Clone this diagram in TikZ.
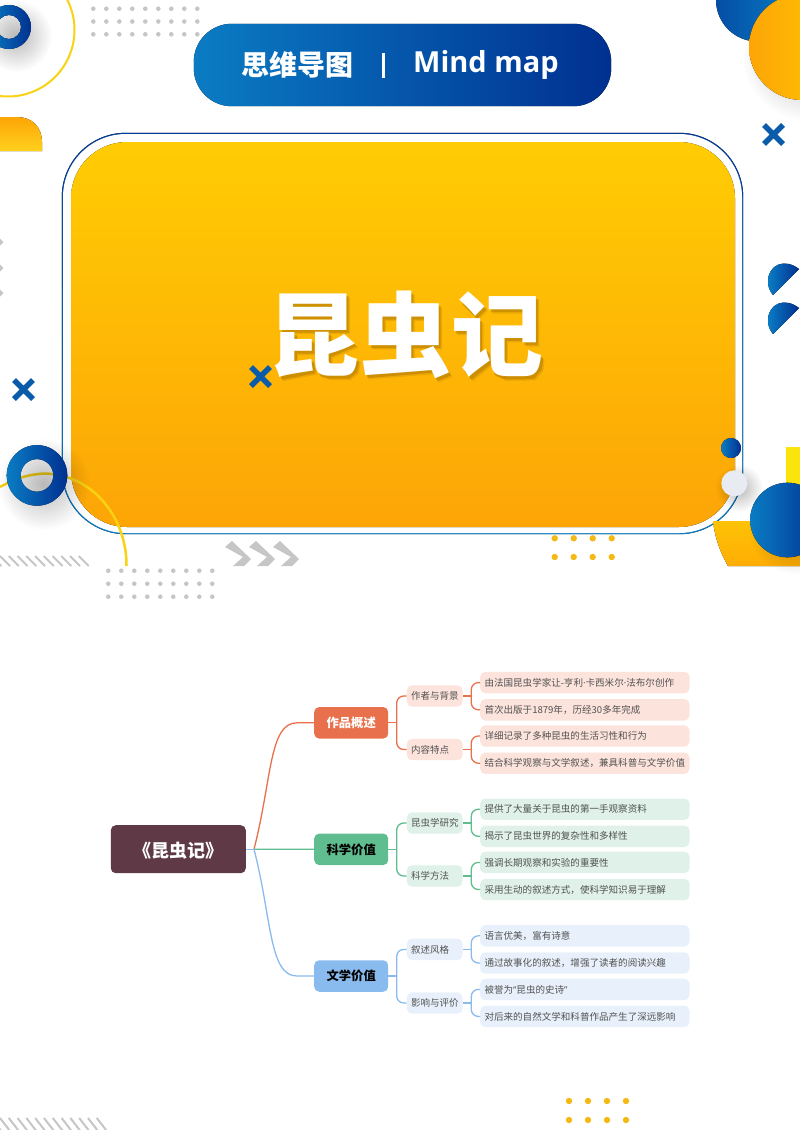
\documentclass[tikz,border=0pt]{standalone}
\usepackage{fontspec}
\setmainfont{Noto Sans CJK SC}
\newfontfamily\latinfont{Open Sans}
\usetikzlibrary{fadings}
\definecolor{pillL}{HTML}{0A7CC4}
\definecolor{pillR}{HTML}{003090}
\definecolor{sunT}{HTML}{FFCC04}
\definecolor{sunB}{HTML}{FDA506}
\definecolor{lineY}{HTML}{F8D213}
\definecolor{dotG}{HTML}{C6C6C6}
\definecolor{dotY}{HTML}{F5B915}
\definecolor{crossB}{HTML}{0A5CAA}
\definecolor{coral}{HTML}{E8704C}
\definecolor{coralL}{HTML}{FCE3DC}
\definecolor{jade}{HTML}{5FBD90}
\definecolor{jadeL}{HTML}{DFF1E8}
\definecolor{sky}{HTML}{8ABBEE}
\definecolor{skyL}{HTML}{E8F1FB}
\definecolor{plum}{HTML}{5F3A46}
\definecolor{mist}{HTML}{E8EBF1}
\definecolor{umber}{HTML}{8A5A00}
\tikzfading[name=softglow, inner color=transparent!72, outer color=transparent!100]
\tikzset{
  root node/.style={
    rounded corners=5,
    fill=plum,
    text=white,
    font=\fontsize{18}{20}\selectfont\bfseries,
    text height=17, text depth=.8,
    minimum width=135, minimum height=48,
    inner sep=0,
  },
  branch node/.style={
    rounded corners=5,
    fill=#1,
    font=\fontsize{12.3}{14}\selectfont\bfseries,
    text height=10.5, text depth=1.1,
    minimum width=74, minimum height=31.5,
    inner sep=0,
  },
  topic node/.style={
    rounded corners=5,
    fill=#1,
    anchor=west,
    text=black!68,
    font=\fontsize{9.5}{11}\selectfont,
    text height=8, text depth=.8,
    text width=47, align=left,
    minimum height=21.4,
    inner xsep=4.3, inner ysep=0,
  },
  leaf node/.style={
    rounded corners=5,
    fill=#1,
    anchor=west,
    text=black!68,
    font=\fontsize{9.55}{11}\selectfont,
    text height=8, text depth=.8,
    text width=200.7, align=left,
    minimum height=21.4,
    inner xsep=4.3, inner ysep=0,
  },
  link/.style={line width=1.3, draw=#1},
  soft link/.style={line width=1.3, draw=#1, rounded corners=7},
  glow/.style={fill=black, path fading=softglow},
  blue grad/.style={left color=pillL, right color=pillR},
  cross mark/.style={draw=crossB, line width=5.4},
}
\begin{document}
\begin{tikzpicture}[x=1pt, y=-1pt]
  \useasboundingbox (0,0) rectangle (800,1130);
  \clip (0,0) rectangle (800,1130);

  % top left corner
  \draw[lineY, line width=2] (8,30) circle (66.5);
  \fill[glow] (16,36) circle (36);
  \fill[even odd rule, blue grad] (9,27) circle (22) (9,27) circle (12);
  \foreach \x in {0,...,8}
    \foreach \y in {0,1,2}
      \fill[dotG] (93.3+13*\x, 8.7+12.8*\y) circle (2.3);
  \fill[top color=sunB, bottom color=sunT!90!white] (0,117) -- (17,117)
    .. controls (32,117) and (42,127) .. (42,142) -- (42,151) -- (0,151) -- cycle;
  \foreach \y in {242,268,293}
    \fill[dotG] (-2,\y-5.5) -- (3.5,\y) -- (-2,\y+5.5) -- (-7,\y) -- cycle;

  % top right corner
  \fill[left color=pillR!60!pillL, right color=pillL] (757.5,0) circle (41.5);
  \fill[glow] (806,56) circle (64);
  \fill[left color=sunB, right color=sunT] (802,47) circle (53);
  \draw[cross mark] (764,125) -- (783,144) (764,144) -- (783,125);
  \foreach \y in {0,39}
    \fill[blue grad] (799,269+\y) .. controls (785,258+\y) and (768,264+\y) .. (768,282+\y)
      .. controls (768,287+\y) and (770,292+\y) .. (773,295+\y) -- cycle;

  % title band
  \node[inner sep=0, minimum width=417, minimum height=82] (pill) at (402.5,65) {};
  \fill[blue grad, rounded corners=38] (pill.south west) rectangle (pill.north east);
  \node[text=white, font=\fontsize{28}{30}\selectfont\bfseries, anchor=west, inner sep=0] (pillzh) at (241,65) {思维导图};
  \node[fill=white, minimum width=3, minimum height=25, inner sep=0] (pillbar) at (383,65) {};
  \node[text=white, font=\fontsize{29}{31}\selectfont\latinfont\bfseries, anchor=west, inner sep=0] (pillen) at (413,65) {Mind map};

  % big panel
  \fill[top color=pillR!85!pillL, bottom color=pillL, rounded corners=64] (61.8,132.8) rectangle (743.2,534.2);
  \fill[white, rounded corners=63] (63,134) rectangle (742,533);
  \fill[top color=sunT, bottom color=sunB, rounded corners=56] (71,142) rectangle (735,527);

  % shadow of the title, stroke by stroke
  \foreach \d/\op in {3.8/.16, 2.4/.3}
    \fill[umber, opacity=\op, even odd rule, shift={(\d,\d)}]
      (279.5,293.8) rectangle (346.2,330.3)
      (292.8,304.4) rectangle (332,307.2)
      (292.8,316.9) rectangle (332,320)
      (280.5,332.6) -- (294.4,332.6) -- (294.4,339.5) -- (311.8,339.5) -- (311.8,351.3) -- (294.4,351.3)
        -- (294.4,361.5) -- (311.3,359) -- (313.1,370.8) -- (279.5,377.4) -- (274.6,365.9) -- (280.5,362) -- cycle
      (314.9,332.3) -- (328.7,332.3) -- (328.7,342.3) -- (343.8,334.6) -- (354.4,343.8) -- (328.7,354.4)
        -- (328.7,362) -- (330.8,363.8) -- (341.5,363.8) -- (344.1,360.8) -- (344.6,354.4) -- (356.9,359)
        -- (354.9,369.7) -- (347.2,376.2) -- (326.7,376.2) -- (317.7,373.6) -- (314.9,364.6) -- cycle
      (396.2,291) -- (411,291) -- (411,303.6) -- (438.2,303.6) -- (438.2,345.6) -- (411,345.6)
        -- (411,358.5) -- (424.1,357.7) -- (420.3,351.8) -- (433.1,346.7) -- (448.5,373.1) -- (434.9,378.7)
        -- (430.5,370.3) -- (365.1,375.6) -- (362.6,361) -- (396.2,359.5) -- (396.2,345.6) -- (368.5,345.6)
        -- (368.5,303.6) -- (396.2,303.6) -- cycle
      (382.1,317.2) rectangle (396.2,332.3)
      (411,317.2) rectangle (423.6,332.3)
      (468,291.8) -- (484.1,306.9) -- (474.6,316.4) -- (459.7,301.5) -- cycle
      (453.8,318.7) -- (479.7,318.7) -- (479.7,351.8) -- (485.6,348.7) -- (489.5,360.8) -- (469,377.4)
        -- (461.8,368.5) -- (466.4,362) -- (466.4,331.3) -- (453.8,331.3) -- cycle
      (488.5,296.4) -- (535.6,296.4) -- (535.6,342.8) -- (522,342.8) -- (522,338.5) -- (504.1,338.5)
        -- (504.1,362) -- (506.2,363.8) -- (524.1,363.8) -- (527.2,359.5) -- (528,350) -- (540.8,355.6)
        -- (539.5,367.2) -- (531.8,376.2) -- (521.5,376.9) -- (502.3,376.9) -- (492,372.3) -- (490.3,362)
        -- (490.3,325.6) -- (522,325.6) -- (522,309.7) -- (488.5,309.7) -- cycle;
  \node[text=white, font=\fontsize{92}{96}\selectfont\bfseries, inner sep=0] (title) at (405,335) {昆虫记};
  \draw[cross mark] (251,367) -- (270,386) (251,386) -- (270,367);

  % lower left
  \draw[cross mark] (14,380) -- (33,399) (14,399) -- (33,380);
  \draw[lineY, line width=2.5] (0,487) .. controls (16,478) and (30,474) .. (45,473.5)
    .. controls (95,475) and (127,520) .. (126.5,566);
  \fill[glow] (44,484) circle (46);
  \fill[even odd rule, blue grad] (37,475.4) circle (30.3) (37,475.4) circle (16.3);
  \foreach \x in {-1,...,9}
    \draw[dotG, line width=2] (\x*8.75,556) -- (\x*8.75+10,566);
  \foreach \x in {0,...,8}
    \foreach \y in {0,1,2}
      \fill[dotG] (108.3+13*\x, 570.7+13*\y) circle (2.3);
  \foreach \x in {0,1,2}
    \fill[dotG, xshift=24*\x] (225,547) -- (232,541) -- (251,559) -- (244,566)
      -- (233,566) -- (243,557) -- cycle;

  % lower right
  \foreach \x in {0,...,3}
    \foreach \y in {0,1}
      \fill[dotY] (554.7+19*\x, 538.3+18.7*\y) circle (3.2);
  \fill[lineY!60!yellow] (786,447) rectangle (800,500);
  \fill[top color=sunT!75!sunB, bottom color=sunB!80!sunT] (713,521) -- (800,521) -- (800,566) -- (728,566)
    .. controls (720,552) and (715,538) .. (713,521) -- cycle;
  \fill[glow] (794,528) circle (46);
  \fill[blue grad] (787.5,520) circle (37.3);
  \fill[glow] (739,488) circle (24);
  \fill[blue grad] (731,448) circle (10);
  \fill[mist] (734.3,483.3) circle (13);

  % bottom edge
  \foreach \x in {-1,...,11}
    \draw[dotG, line width=2] (\x*8.8,1118) -- (\x*8.8+10,1131);
  \foreach \x in {0,...,3}
    \foreach \y in {0,1}
      \fill[dotY] (569+19*\x, 1101+19*\y) circle (3.2);

  % mind map nodes
  \node[root node] (root) at (178.3,849.2) {《昆虫记》};
  \node[branch node=coral, text=white] (work) at (351.2,722.8) {作品概述};
  \node[branch node=jade, text=black] (sci) at (351.2,849.3) {科学价值};
  \node[branch node=sky, text=black] (lit) at (351.2,976) {文学价值};

  \node[topic node=coralL] (author) at (406.7,696) {作者与背景};
  \node[topic node=coralL] (content) at (406.7,749.5) {内容特点};
  \node[topic node=jadeL] (insect) at (406.7,823) {昆虫学研究};
  \node[topic node=jadeL] (method) at (406.7,876) {科学方法};
  \node[topic node=skyL] (style) at (406.7,949.4) {叙述风格};
  \node[topic node=skyL] (impact) at (406.7,1003) {影响与评价};

  \node[leaf node=coralL] (a1) at (480,682.6) {由法国昆虫学家让{\latinfont -}亨利{\latinfont ·}卡西米尔{\latinfont ·}法布尔创作};
  \node[leaf node=coralL] (a2) at (480,709.8) {首次出版于1879年，历经30多年完成};
  \node[leaf node=coralL] (c1) at (480,736) {详细记录了多种昆虫的生活习性和行为};
  \node[leaf node=coralL] (c2) at (480,763.2) {结合科学观察与文学叙述，兼具科普与文学价值};
  \node[leaf node=jadeL] (i1) at (480,809.2) {提供了大量关于昆虫的第一手观察资料};
  \node[leaf node=jadeL] (i2) at (480,836.3) {揭示了昆虫世界的复杂性和多样性};
  \node[leaf node=jadeL] (m1) at (480,862.4) {强调长期观察和实验的重要性};
  \node[leaf node=jadeL] (m2) at (480,889.5) {采用生动的叙述方式，使科学知识易于理解};
  \node[leaf node=skyL] (s1) at (480,935.8) {语言优美，富有诗意};
  \node[leaf node=skyL] (s2) at (480,963) {通过故事化的叙述，增强了读者的阅读兴趣};
  \node[leaf node=skyL] (p1) at (480,989.4) {被誉为{\latinfont “}昆虫的史诗{\latinfont ”}};
  \node[leaf node=skyL] (p2) at (480,1016.4) {对后来的自然文学和科普作品产生了深远影响};

  % junctions
  \coordinate (hub) at (254,849.2);
  \coordinate (workin) at (297,722.8);
  \coordinate (litin) at (297,976);
  \coordinate (jwork) at (396.7,722.8);
  \coordinate (jsci) at (396.7,849.3);
  \coordinate (jlit) at (396.7,976);
  \foreach \topic in {author,content,insect,method,style,impact}
    \coordinate (j\topic) at ([xshift=8.6]\topic.east);

  % connectors
  \draw[link=sky] (root.east) -- (hub);
  \draw[link=coral] (hub) .. controls +(18,-70) and +(-28,0) .. (workin) -- (work.west);
  \draw[link=jade] (hub) -- (sci.west);
  \draw[link=sky] (hub) .. controls +(18,70) and +(-28,0) .. (litin) -- (lit.west);

  \draw[link=coral] (work.east) -- (jwork);
  \draw[link=jade] (sci.east) -- (jsci);
  \draw[link=sky] (lit.east) -- (jlit);
  \draw[soft link=coral] (author.west) -| (jwork) |- (content.west);
  \draw[soft link=jade] (insect.west) -| (jsci) |- (method.west);
  \draw[soft link=sky] (style.west) -| (jlit) |- (impact.west);

  \foreach \topic/\leafa/\leafb/\col in {author/a1/a2/coral,content/c1/c2/coral,insect/i1/i2/jade,
    method/m1/m2/jade,style/s1/s2/sky,impact/p1/p2/sky} {
    \draw[link=\col] (\topic.east) -- (j\topic);
    \draw[soft link=\col] (\leafa.west) -| (j\topic) |- (\leafb.west);
  }
\end{tikzpicture}
\end{document}
